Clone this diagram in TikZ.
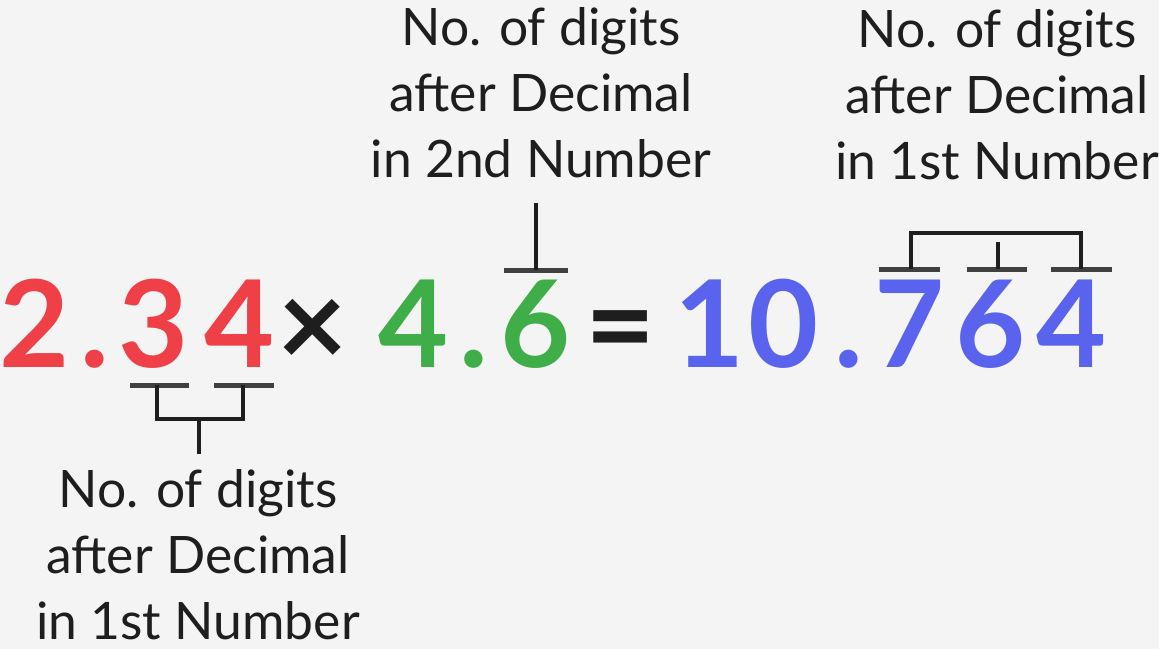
\documentclass[tikz,border=0pt]{standalone}
\usepackage{fontspec}
\setmainfont{Lato}
\usetikzlibrary{calc}
\definecolor{numred}{HTML}{EF4048}
\definecolor{numgreen}{HTML}{3FAE49}
\definecolor{numblue}{HTML}{5A63EE}
\definecolor{bggray}{HTML}{F4F4F4}
\definecolor{ink}{HTML}{1E1E1E}
\begin{document}
\begin{tikzpicture}[
    x=1pt, y=-1pt,
    % Styles
    digit/.style={
      inner sep=0,
      anchor=base,
      font=\fontsize{121}{121}\selectfont\bfseries,
    },
    note/.style={
      inner sep=0,
      anchor=north,
      align=center,
      text=ink,
      font=\fontsize{51.6}{66}\selectfont,
    },
    bar/.style={line width=5pt, draw=ink!85},
    tick/.style={line width=4pt, draw=ink},
  ]
  \fill[bggray] (0,0) rectangle (1159,649);
  \useasboundingbox (0,0) rectangle (1159,649);
  % 2.34 x 4.6 = 10.764
  \node[digit, text=numred] (r2) at (35,367) {2};
  \node[digit, text=numred] (rdot) at (95,367) {.};
  \node[digit, text=numred] (r3) at (154,367) {3};
  \node[digit, text=numred] (r4) at (240,367) {4};
  \node[digit, text=ink] (times) at (313,367) {×};
  \node[digit, text=numgreen] (g4) at (414,367) {4};
  \node[digit, text=numgreen] (gdot) at (474,367) {.};
  \node[digit, text=numgreen] (g6) at (536,367) {6};
  \node[digit, text=ink] (eq) at (621,367) {=};
  \node[digit, text=numblue] (b1) at (710,367) {1};
  \node[digit, text=numblue] (b0) at (784,367) {0};
  \node[digit, text=numblue] (bdot) at (849,367) {.};
  \node[digit, text=numblue] (b7) at (910,367) {7};
  \node[digit, text=numblue] (b6) at (991,367) {6};
  \node[digit, text=numblue] (b4) at (1072,367) {4};
  % notes
  \node[note] (rednote) at (198,469) {No. of digits\\after Decimal\\in 1st Number};
  \node[note] (greennote) at (541,7) {No. of digits\\after Decimal\\in 2nd Number};
  \node[note] (bluenote) at (997,9) {No. of digits\\after Decimal\\in 1st Number};
  % bracket under 2.34
  \draw[bar] ($(r3.base)+(-24,18)$) -- ++(59,0);
  \draw[bar] ($(r4.base)+(-26,18)$) -- ++(60,0);
  \coordinate (redhub) at ($(r3.base)!.5!(r4.base)+(2,52)$);
  \draw[tick] ($(r3.base)+(3,18)$) |- (redhub) -| ($(r4.base)+(3,18)$);
  \draw[tick, shorten >=15pt] (redhub) -- (redhub |- rednote.north);
  % mark over 4.6
  \draw[bar] ($(g6.base)+(-32,-97)$) -- ++(64,0);
  \draw[tick, shorten >=25pt] ($(g6.base)+(0,-97)$) -- (g6.base |- greennote.south);
  % bracket over 10.764
  \draw[bar] ($(b7.base)+(-31,-98)$) -- ++(61,0);
  \draw[bar] ($(b6.base)+(-24,-98)$) -- ++(60,0);
  \draw[bar] ($(b4.base)+(-21,-98)$) -- ++(61,0);
  \coordinate (bluehub) at ($(b6.base)+(7,-134)$);
  \draw[tick] ($(b7.base)+(1,-98)$) |- (bluehub) -| ($(b4.base)+(9,-98)$);
  \draw[tick, shorten >=27pt] ($(b6.base)+(7,-98)$) -- ($(b6.base)+(7,-98)$ |- bluenote.south);
\end{tikzpicture}
\end{document}
